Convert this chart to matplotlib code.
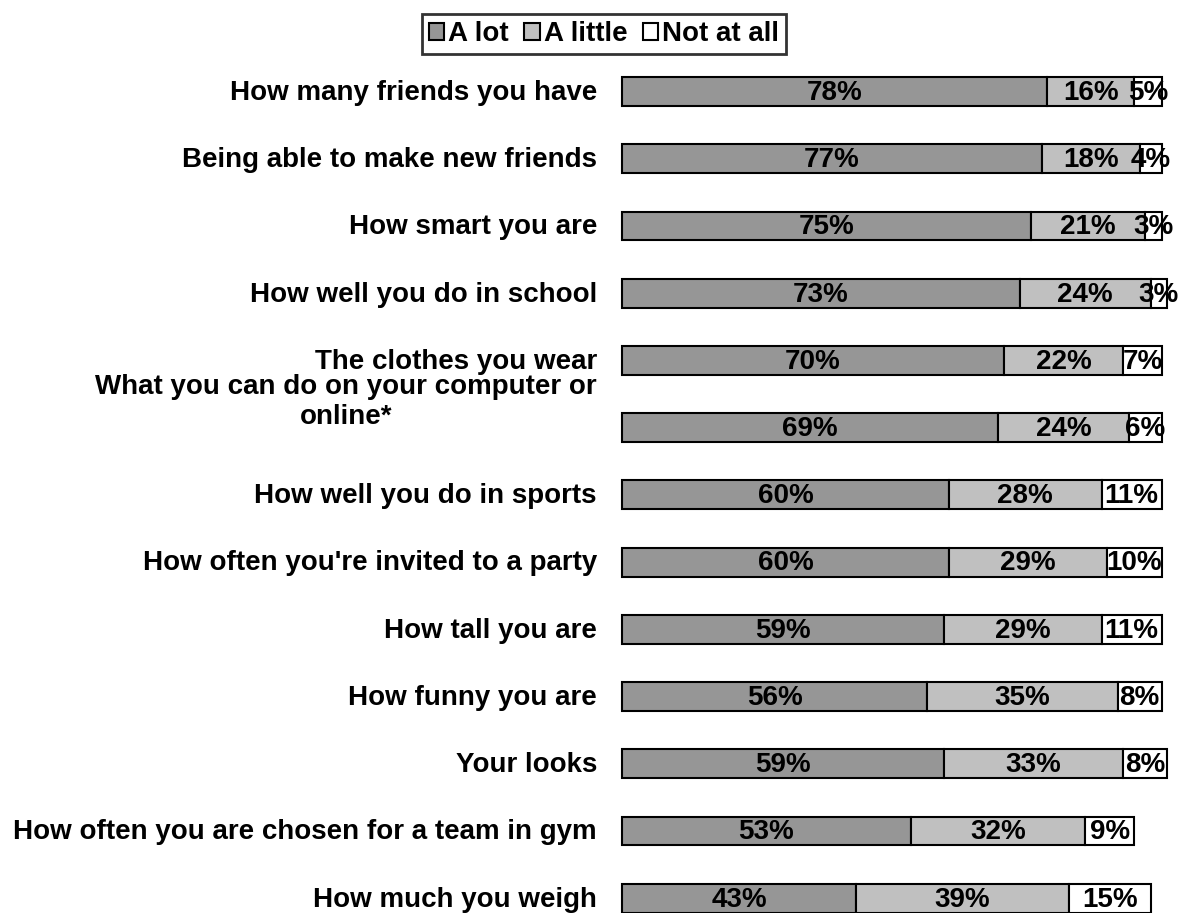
import matplotlib
matplotlib.use("Agg")
import matplotlib.pyplot as plt
from matplotlib.patches import Patch
import matplotlib.transforms as mtransforms

plt.rcParams['font.family'] = ['Liberation Sans', 'DejaVu Sans']
plt.rcParams['font.weight'] = 'bold'

categories = [
    "How many friends you have",
    "Being able to make new friends",
    "How smart you are",
    "How well you do in school",
    "The clothes you wear",
    "What you can do on your computer or\nonline*",
    "How well you do in sports",
    "How often you're invited to a party",
    "How tall you are",
    "How funny you are",
    "Your looks",
    "How often you are chosen for a team in gym",
    "How much you weigh",
]
a_lot = [78, 77, 75, 73, 70, 69, 60, 60, 59, 56, 59, 53, 43]
a_little = [16, 18, 21, 24, 22, 24, 28, 29, 29, 35, 33, 32, 39]
not_at_all = [5, 4, 3, 3, 7, 6, 11, 10, 11, 8, 8, 9, 15]
series_names = ["A lot", "A little", "Not at all"]
colors = ["#969696", "#c0c0c0", "#ffffff"]

FS = 20
W, H = 1193, 913
fig = plt.figure(figsize=(W / 100, H / 100), dpi=100)
ax = fig.add_axes([622 / W, 0, 545 / W, 1 - 58 / H])
ax.set_xlim(0, 100)
ax.set_ylim(12.22, -0.5)
ax.axis('off')

ypos = list(range(len(categories)))
left = [0] * len(categories)
for vals, col in zip([a_lot, a_little, not_at_all], colors):
    bars = ax.barh(ypos, vals, left=left, height=0.43, color=col,
                   edgecolor='black', linewidth=1.5, clip_on=False)
    for b, v in zip(bars, vals):
        ax.text(b.get_x() + b.get_width() / 2, b.get_y() + b.get_height() / 2 + 0.02,
                f"{v}%", ha='center', va='center', fontsize=FS,
                fontweight='bold', color='black', clip_on=False)
    left = [l + v for l, v in zip(left, vals)]

offset = mtransforms.offset_copy(ax.transData, fig=fig, x=-25, y=0, units='dots')
for y, cat in zip(ypos, categories):
    if "\n" in cat:
        ax.text(0, y + 0.03, cat, transform=offset, ha='right', va='bottom',
                multialignment='center', fontsize=FS, fontweight='bold',
                linespacing=1.2)
    else:
        ax.text(0, y + 0.02, cat, transform=offset, ha='right', va='center',
                fontsize=FS, fontweight='bold')

handles = [Patch(facecolor=c, edgecolor='black', linewidth=1.5) for c in colors]
leg = fig.legend(handles, series_names, loc='center', bbox_to_anchor=(604 / W, 1 - 34 / H),
                 ncol=3, frameon=True, fancybox=False, handlelength=0.55,
                 handleheight=0.55, handletextpad=0.15, columnspacing=0.55,
                 borderpad=0.25, borderaxespad=0,
                 prop={'weight': 'bold', 'size': FS})
leg.get_frame().set_edgecolor('black')
leg.get_frame().set_linewidth(2)

fig.savefig("out.png", dpi=100)
